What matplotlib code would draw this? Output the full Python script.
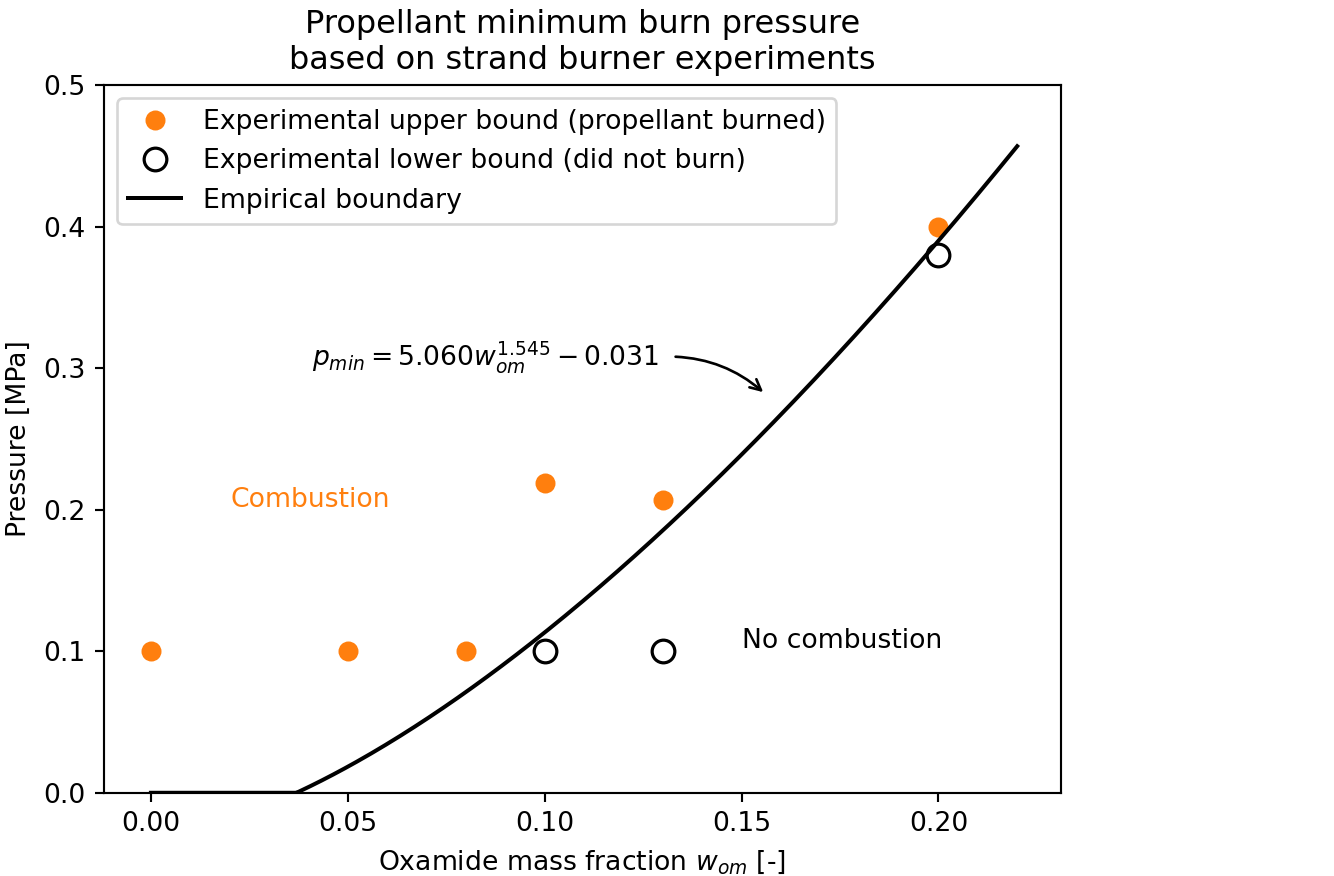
import matplotlib.pyplot as plt
import numpy as np

# DATA
w_burn = [0.0, 0.05, 0.08, 0.10, 0.13, 0.20]
p_burn = [0.1, 0.1, 0.1, 0.219, 0.207, 0.40]

w_noburn = [0.10, 0.13, 0.20]
p_noburn = [0.1, 0.1, 0.38]

# empirical fit p_min = a*w^b - c (as printed on the chart)
fit_a = 5.060
fit_b = 1.545
fit_c = 0.031
w_fit = np.linspace(0.0, 0.22, 300)
p_fit = np.maximum(fit_a * w_fit**fit_b - fit_c, 0.0)

orange = '#ff7f0e'

fig = plt.figure(figsize=(1334/192, 876/192), dpi=192)
ax = fig.add_axes([0.078, 0.095, 0.717, 0.808])

ax.plot(w_burn, p_burn, 'o', color=orange, markersize=6.5,
        label='Experimental upper bound (propellant burned)')
ax.plot(w_noburn, p_noburn, 'o', markerfacecolor='white', markeredgecolor='black',
        markeredgewidth=1.2, markersize=8.5,
        label='Experimental lower bound (did not burn)')
ax.plot(w_fit, p_fit, '-', color='black', linewidth=1.5, label='Empirical boundary')

ax.annotate(r'$p_{min} = 5.060 w_{om}^{1.545} - 0.031$',
            xy=(0.1555, 0.283), xytext=(0.041, 0.308),
            va='center', ha='left',
            arrowprops=dict(arrowstyle='->', color='black', relpos=(1.0, 0.5),
                            connectionstyle='arc3,rad=-0.2', shrinkA=4, shrinkB=0))

ax.text(0.0203, 0.207, 'Combustion', color=orange, va='center', ha='left')
ax.text(0.150, 0.107, 'No combustion', color='black', va='center', ha='left')

ax.set_xlim(-0.0119, 0.231)
ax.set_ylim(0, 0.5)
ax.set_xticks([0.0, 0.05, 0.10, 0.15, 0.20])
ax.set_yticks([0.0, 0.1, 0.2, 0.3, 0.4, 0.5])

# Labels and Legend
ax.set_title('Propellant minimum burn pressure\nbased on strand burner experiments')
ax.set_xlabel(r'Oxamide mass fraction $w_{om}$ [-]')
ax.set_ylabel('Pressure [MPa]')
ax.legend(loc='upper left')

plt.savefig('out.png', dpi=192)
